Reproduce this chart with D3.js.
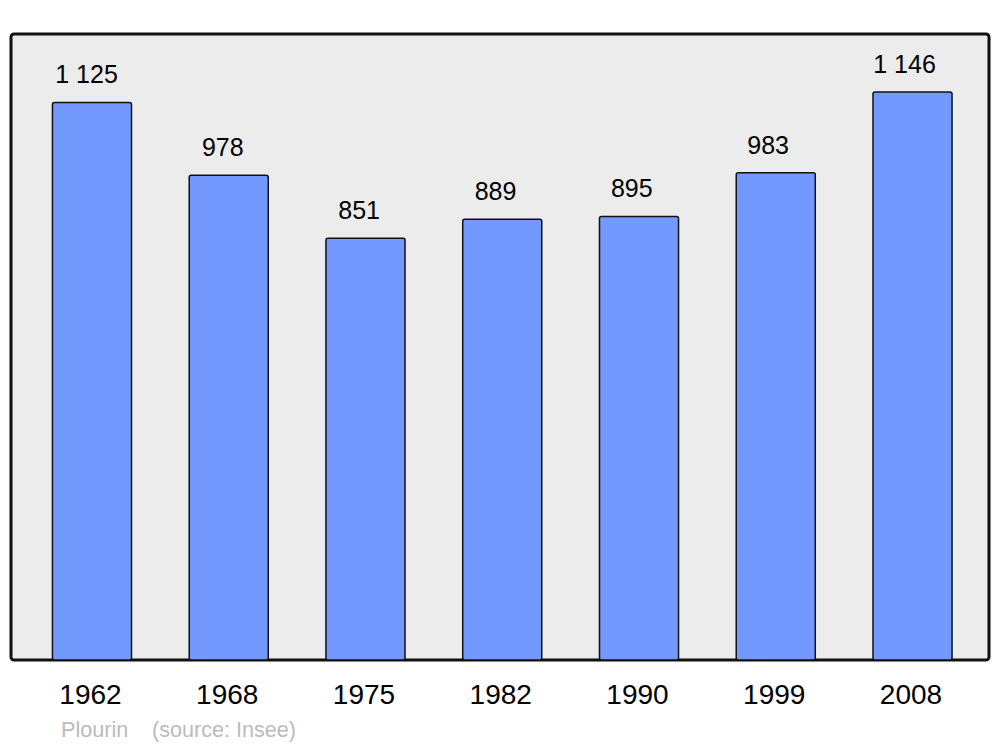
<!DOCTYPE html>
<html><head><meta charset="utf-8">
<script src="https://cdn.jsdelivr.net/npm/d3@7"></script>
<style>html,body{margin:0;padding:0;background:#fff}</style>
</head><body>
<script>
const years = ["1962","1968","1975","1982","1990","1999","2008"];
const population = [1125, 978, 851, 889, 895, 983, 1146];
const valueLabels = ["1 125","978","851","889","895","983","1 146"];
const townName = "Plourin";
const sourceText = "(source: Insee)";

const W = 1000, H = 747;
const panel = {x0: 11, y0: 34, x1: 989, y1: 660};
const svg = d3.select("body").append("svg").attr("width", W).attr("height", H)
  .style("font-family", "'Liberation Sans', Arial, sans-serif");

svg.append("rect").attr("x", panel.x0).attr("y", panel.y0)
  .attr("width", panel.x1 - panel.x0).attr("height", panel.y1 - panel.y0)
  .attr("rx", 3).attr("fill", "#ececec").attr("stroke", "#111").attr("stroke-width", 3);

const x = d3.scaleBand().domain(years).range([23.6, 980.9]).paddingInner(0.422).paddingOuter(0.211);
const xLabel = d3.scalePoint().domain(years).range([86.5, 904.5]);
const y = d3.scaleLinear().domain([0, 1263]).range([panel.y1, panel.y0]);

const data = years.map((yr, i) => ({yr, v: population[i], label: valueLabels[i]}));

svg.selectAll("rect.bar").data(data).join("rect").attr("class", "bar")
  .attr("x", d => x(d.yr)).attr("y", d => y(d.v))
  .attr("width", x.bandwidth()).attr("height", d => y(0) - y(d.v))
  .attr("rx", 2).attr("fill", "#7399ff").attr("stroke", "#111").attr("stroke-width", 1.5);

svg.selectAll("text.val").data(data).join("text").attr("class", "val")
  .attr("x", d => xLabel(d.yr)).attr("y", d => y(d.v) - 19)
  .attr("text-anchor", "middle").attr("font-size", 25).attr("fill", "#000")
  .text(d => d.label);

svg.selectAll("text.yr").data(data).join("text").attr("class", "yr")
  .attr("x", d => x(d.yr) + x.bandwidth() / 2 - 1.5).attr("y", 703.5)
  .attr("text-anchor", "middle").attr("font-size", 28).attr("fill", "#000")
  .text(d => d.yr);

svg.append("text").attr("x", 61).attr("y", 737).attr("font-size", 21.6).attr("fill", "#bbb").text(townName);
svg.append("text").attr("x", 152).attr("y", 737).attr("font-size", 21.6).attr("fill", "#bbb").text(sourceText);
</script>
</body></html>
